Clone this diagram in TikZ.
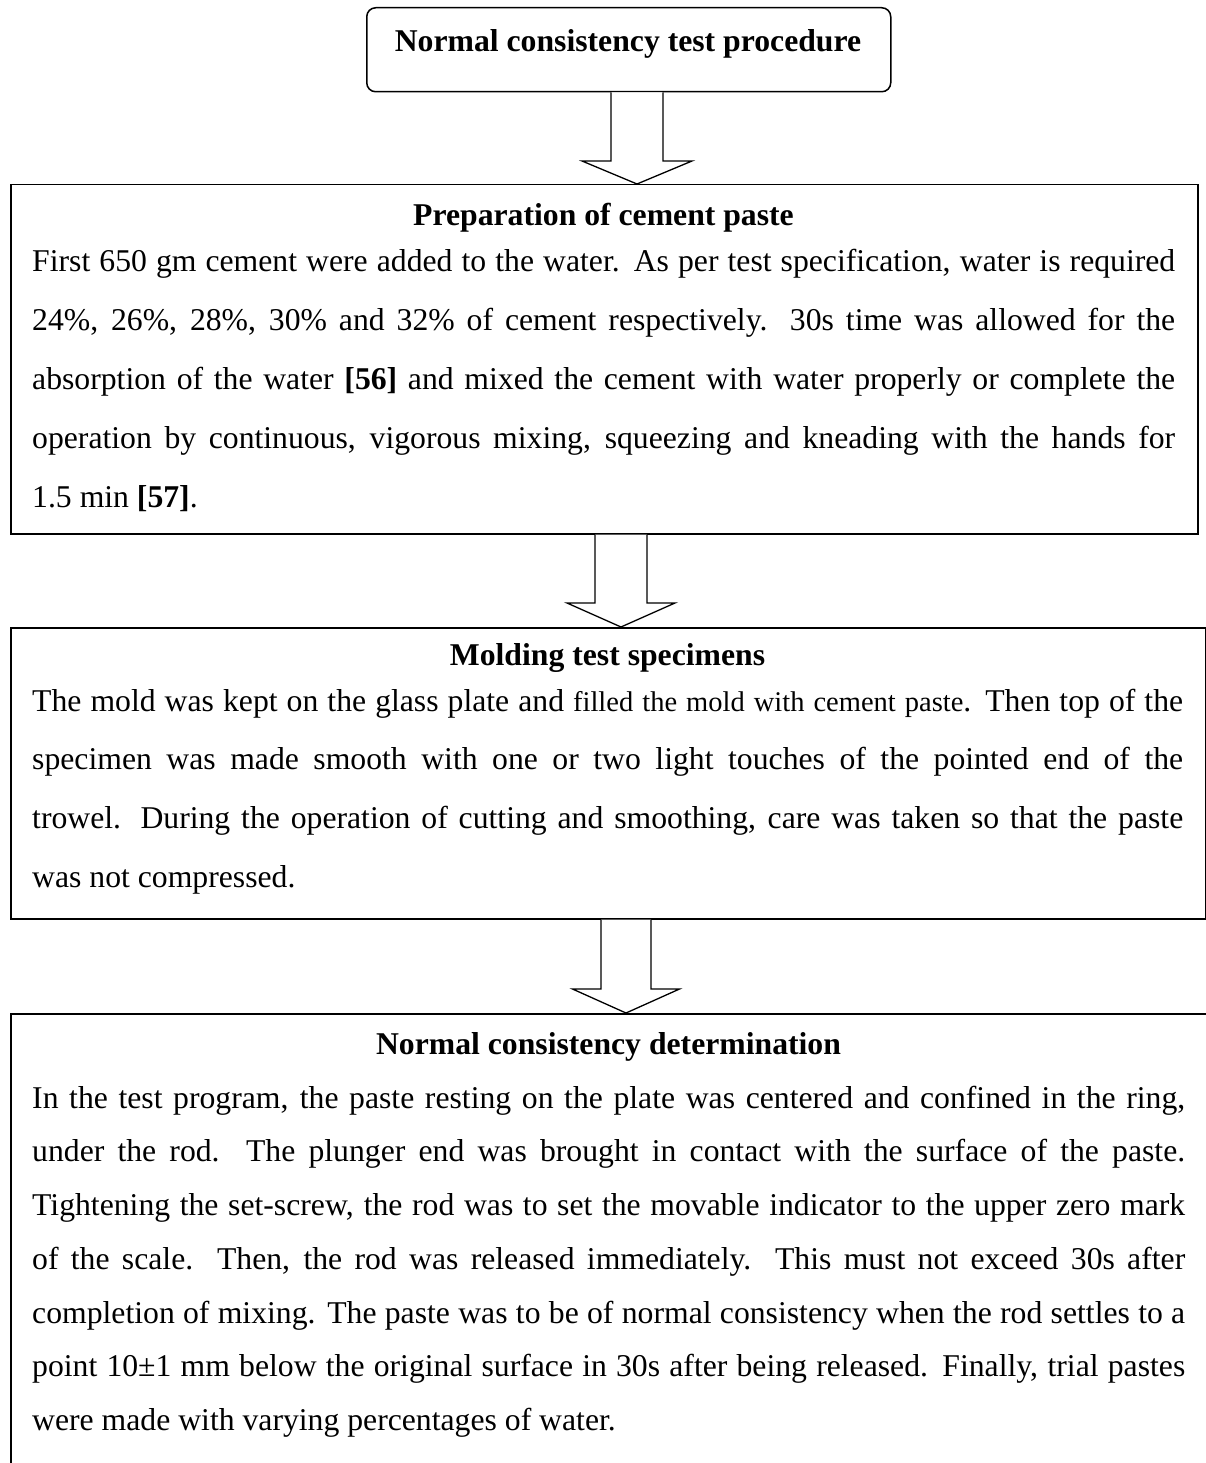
\documentclass[tikz,border=0pt]{standalone}
\usepackage{fontspec}
\setmainfont{Liberation Serif}
\usetikzlibrary{calc}
\newcommand\bodysetup{\parindent=0pt\spaceskip=0.25em plus 1em minus 0.08em\relax\tolerance=10000\pretolerance=-1\hyphenpenalty=10000\exhyphenpenalty=10000\strut}
\tikzset{
  boxline/.style={draw=black, line width=1.5pt, inner sep=0pt, anchor=north west},
  headtext/.style={anchor=base, inner sep=0pt, font=\fontsize{31.7}{53.7}\selectfont\bfseries},
  bodytext/.style={anchor=north west, inner sep=0pt, text width=#1, align=justify, font=\fontsize{31.7}{53.7}\selectfont},
  widetext/.style={anchor=north west, inner sep=0pt, text width=#1, align=justify, font=\fontsize{31.7}{58.8}\selectfont},
  blockarrow/.style={draw=black, fill=white, line width=1.3pt, line join=miter},
}
\newcommand\blockarrow[5]{% start coord, tip coord, shaft half width, head half width, head length
  \draw[blockarrow] ($(#1)+(-#3,0)$) -- ($(#2)+(-#3,-#5)$) -- ($(#2)+(-#4,-#5)$) -- (#2)
    -- ($(#2)+(#4,-#5)$) -- ($(#2)+(#3,-#5)$) -- ($(#1)+(#3,0)$);
}
\begin{document}
\begin{tikzpicture}[x=1pt,y=-1pt]
\useasboundingbox (0,0) rectangle (1206,1463);
\clip (0,0) rectangle (1206,1463);
\fill[white] (0,0) rectangle (1206,1463);

% top box
\node[boxline, rounded corners=9pt, minimum width=524pt, minimum height=84pt] (top) at (366,7) {};
\node[headtext] (toptext) at (628,51.5) {Normal consistency test procedure};

% box 2
\node[boxline, minimum width=1187pt, minimum height=349pt] (b2) at (10,184) {};
\node[headtext] (h2) at (603.5,226) {Preparation of cement paste};
\node[widetext=1143pt] (t2) at (32,230.5) {\bodysetup First 650 gm cement were added to the water. As per test specification, water is required\linebreak
24\%, 26\%, 28\%, 30\% and 32\% of cement respectively. 30s time was allowed for the\linebreak
absorption of the water \textbf{[56]} and mixed the cement with water properly or complete the\linebreak
operation by continuous, vigorous mixing, squeezing and kneading with the hands for\linebreak
1.5 min \textbf{[57]}.};

% box 3
\node[boxline, minimum width=1195pt, minimum height=291pt] (b3) at (10,627) {};
\node[headtext] (h3) at (607.5,665) {Molding test specimens};
\node[widetext=1151pt] (t3) at (32,669.8) {\bodysetup The mold was kept on the glass plate and {\fontsize{28.5}{58.8}\selectfont filled the mold with cement paste}. Then top of the\linebreak
specimen was made smooth with one or two light touches of the pointed end of the\linebreak
trowel. During the operation of cutting and smoothing, care was taken so that the paste\linebreak
was not compressed.};

% box 4
\node[boxline, minimum width=1220pt, minimum height=480pt] (b4) at (10,1013) {};
\node[headtext] (h4) at (608.5,1054) {Normal consistency determination};
\node[bodytext=1153pt] (t4) at (32,1070.4) {\bodysetup In the test program, the paste resting on the plate was centered and confined in the ring,\linebreak
under the rod. The plunger end was brought in contact with the surface of the paste.\linebreak
Tightening the set-screw, the rod was to set the movable indicator to the upper zero mark\linebreak
of the scale. Then, the rod was released immediately. This must not exceed 30s after\linebreak
completion of mixing. The paste was to be of normal consistency when the rod settles to a\linebreak
point 10±1 mm below the original surface in 30s after being released. Finally, trial pastes\linebreak
were made with varying percentages of water.};

% arrows
\coordinate (a1s) at (top.south -| 637,0);
\coordinate (a1t) at (b2.north -| 637,0);
\coordinate (a2s) at (b2.south -| 621,0);
\coordinate (a2t) at (b3.north -| 621,0);
\coordinate (a3s) at (b3.south -| 626,0);
\coordinate (a3t) at (b4.north -| 626,0);
\blockarrow{a1s}{a1t}{26}{55}{23}
\blockarrow{a2s}{a2t}{26}{54}{24}
\blockarrow{a3s}{a3t}{25}{53.5}{24}
\end{tikzpicture}
\end{document}
